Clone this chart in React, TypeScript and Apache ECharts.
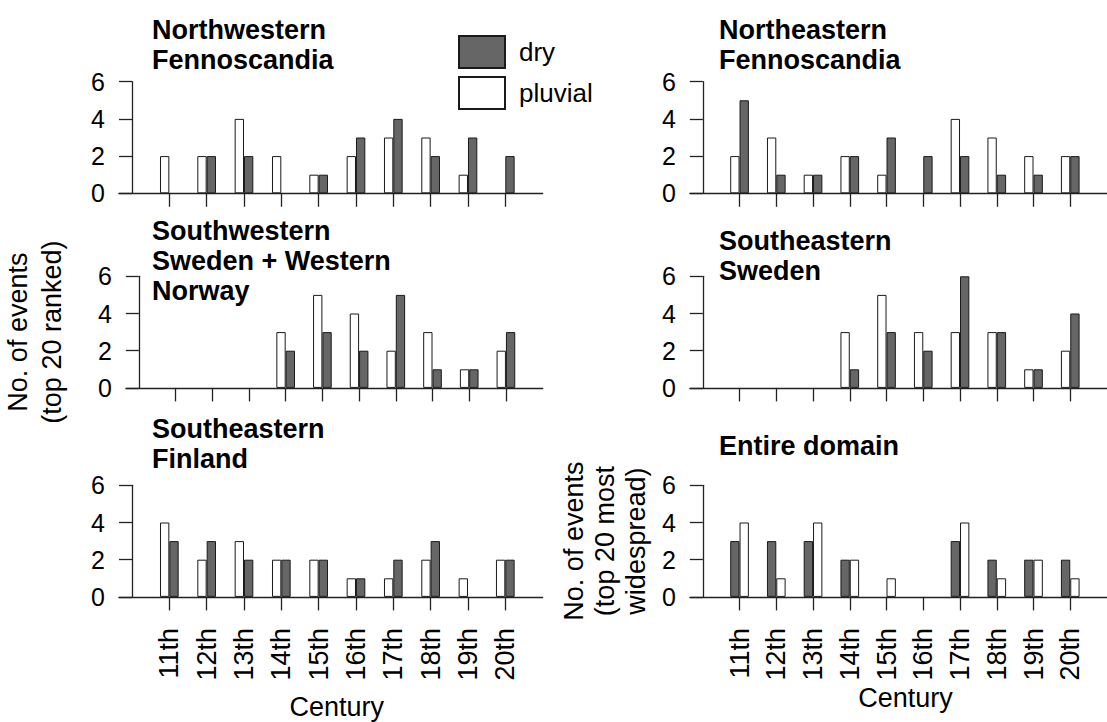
import React, { useEffect, useRef } from "react";
import * as echarts from "echarts";

const CENTURIES = ["11th", "12th", "13th", "14th", "15th", "16th", "17th", "18th", "19th", "20th"];
const CENTURY_POS = [1, 2, 3, 4, 5, 6, 7, 8, 9, 10];

const TITLES = [
  "Northwestern\nFennoscandia",
  "Northeastern\nFennoscandia",
  "Southwestern\nSweden + Western\nNorway",
  "Southeastern\nSweden",
  "Southeastern\nFinland",
  "Entire domain",
];

const NW_PLUVIAL = [2, 2, 4, 2, 1, 2, 3, 3, 1, 0];
const NW_DRY = [0, 2, 2, 0, 1, 3, 4, 2, 3, 2];
const NE_PLUVIAL = [2, 3, 1, 2, 1, 0, 4, 3, 2, 2];
const NE_DRY = [5, 1, 1, 2, 3, 2, 2, 1, 1, 2];
const SW_PLUVIAL = [0, 0, 0, 3, 5, 4, 2, 3, 1, 2];
const SW_DRY = [0, 0, 0, 2, 3, 2, 5, 1, 1, 3];
const SES_PLUVIAL = [0, 0, 0, 3, 5, 3, 3, 3, 1, 2];
const SES_DRY = [0, 0, 0, 1, 3, 2, 6, 3, 1, 4];
const SEF_PLUVIAL = [4, 2, 3, 2, 2, 1, 1, 2, 1, 2];
const SEF_DRY = [3, 3, 2, 2, 2, 1, 2, 3, 0, 2];
const ALL_DRY = [3, 3, 3, 2, 0, 0, 3, 2, 2, 2];
const ALL_PLUVIAL = [4, 1, 4, 2, 1, 0, 4, 1, 2, 1];

const Y_TICKS = [0, 2, 4, 6];

const FONT = "'Liberation Sans', Arial, Helvetica, sans-serif";
const DRY_COLOR = "#666666";
const PLUVIAL_COLOR = "#ffffff";
const EDGE = "#1a1a1a";
const AXIS_COLOR = "#222222";

// layout (pixels)
const COL_Y_AXIS_X = [132, 703];
const ROW_TOP = [81.7, 276.3, 485.3];
const PLOT_H = 111.6;
const UNIT = 37.33;
const X_MIN = -0.35;
const X_MAX = 11.0;

export default function App() {
  const ref = useRef<HTMLDivElement>(null);

  useEffect(() => {
    if (!ref.current) return;
    const chart = echarts.init(ref.current, null, { renderer: "svg" });

    const panels = [
      { series: [["pluvial", NW_PLUVIAL], ["dry", NW_DRY]] },
      { series: [["pluvial", NE_PLUVIAL], ["dry", NE_DRY]] },
      { series: [["pluvial", SW_PLUVIAL], ["dry", SW_DRY]] },
      { series: [["pluvial", SES_PLUVIAL], ["dry", SES_DRY]] },
      { series: [["pluvial", SEF_PLUVIAL], ["dry", SEF_DRY]] },
      { series: [["dry", ALL_DRY], ["pluvial", ALL_PLUVIAL]] },
    ] as { series: [string, number[]][] }[];

    const titleTops = [15, 15, 216, 226, 414, 431];
    const titleLefts = [152, 719];

    const grids: any[] = [];
    const xAxes: any[] = [];
    const yAxes: any[] = [];
    const series: any[] = [];
    const titles: any[] = [];

    panels.forEach((p, i) => {
      const row = Math.floor(i / 2);
      const col = i % 2;
      const x0 = COL_Y_AXIS_X[col];
      grids.push({
        left: x0 + X_MIN * UNIT,
        top: ROW_TOP[row],
        width: (X_MAX - X_MIN) * UNIT,
        height: PLOT_H,
        containLabel: false,
      });
      const bottomRow = row === 2;
      xAxes.push({
        type: "value",
        gridIndex: i,
        min: X_MIN,
        max: X_MAX,
        axisLine: { show: true, onZero: true, lineStyle: { color: AXIS_COLOR, width: 1.3 } },
        axisTick: {
          show: true,
          length: 13.5,
          customValues: CENTURY_POS,
          lineStyle: { color: AXIS_COLOR, width: 1.3 },
        },
        axisLabel: {
          show: bottomRow,
          customValues: CENTURY_POS,
          rotate: 90,
          margin: 31,
          fontSize: 27,
          fontFamily: FONT,
          color: "#000",
          formatter: (v: number) => CENTURIES[Math.round(v) - 1] ?? "",
        },
        splitLine: { show: false },
        name: bottomRow ? "Century" : "",
        nameLocation: "middle",
        nameGap: col === 0 ? 97 : 86,
        nameTextStyle: {
          fontSize: 27,
          fontFamily: FONT,
          color: "#000",
          padding: col === 0 ? [0, 0, 0, 12] : [0, 0, 0, 14],
        },
      });
      let yName = "";
      let yGap = 0;
      let yLH = 32;
      if (i === 2) {
        yName = "No. of events\n(top 20 ranked)";
        yGap = 57;
        yLH = 34;
      } else if (i === 5) {
        yName = "No. of events\n(top 20 most\nwidespread)";
        yGap = 38;
        yLH = 31;
      }
      yAxes.push({
        type: "value",
        gridIndex: i,
        min: 0,
        max: 6,
        interval: 2,
        axisLine: { show: true, onZero: true, lineStyle: { color: AXIS_COLOR, width: 1.3 } },
        axisTick: { show: true, length: 13, lineStyle: { color: AXIS_COLOR, width: 1.3 } },
        axisLabel: {
          fontSize: 25,
          fontFamily: FONT,
          color: "#000",
          margin: 14,
          customValues: Y_TICKS,
        },
        splitLine: { show: false },
        name: yName,
        nameLocation: "middle",
        nameGap: yGap,
        nameTextStyle: { fontSize: 27, fontFamily: FONT, color: "#000", lineHeight: yLH },
      });
      p.series.forEach(([name, vals]) => {
        series.push({
          type: "bar",
          name,
          xAxisIndex: i,
          yAxisIndex: i,
          barWidth: UNIT / 4,
          barGap: "0%",
          data: vals.map((v, k) => ({
            value: [CENTURY_POS[k], v],
            itemStyle: v === 0 ? { borderWidth: 0, opacity: 0 } : undefined,
          })),
          itemStyle: {
            color: name === "dry" ? DRY_COLOR : PLUVIAL_COLOR,
            borderColor: EDGE,
            borderWidth: 1,
          },
          emphasis: { disabled: true },
        });
      });
      titles.push({
        text: TITLES[i],
        left: titleLefts[col],
        top: titleTops[i],
        padding: 0,
        textStyle: {
          fontSize: 27,
          fontWeight: "bold",
          fontFamily: FONT,
          color: "#000",
          lineHeight: 30,
        },
      });
    });

    chart.setOption({
      animation: false,
      backgroundColor: "#ffffff",
      title: titles,
      legend: {
        data: ["dry", "pluvial"],
        orient: "vertical",
        left: 458,
        top: 35,
        padding: 0,
        itemWidth: 46,
        itemHeight: 32,
        itemGap: 7,
        icon: "rect",
        selectedMode: false,
        textStyle: { fontSize: 26, fontFamily: FONT, color: "#000", padding: [0, 0, 0, 9] },
      },
      grid: grids,
      xAxis: xAxes,
      yAxis: yAxes,
      series,
    });

    return () => chart.dispose();
  }, []);

  return (
    <div
      ref={ref}
      style={{ position: "absolute", left: 0, top: 0, width: 1107, height: 722, background: "#fff" }}
    />
  );
}
